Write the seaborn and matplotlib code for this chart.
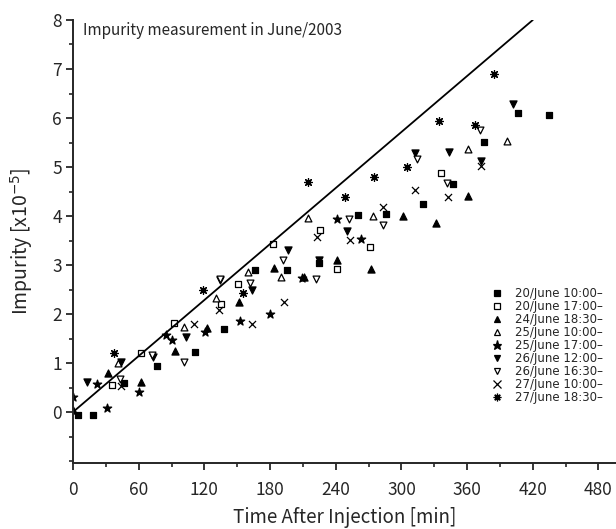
import numpy as np
import pandas as pd
import matplotlib
matplotlib.use("Agg")
import matplotlib.pyplot as plt
import seaborn as sns
from matplotlib.lines import Line2D
from matplotlib.ticker import MultipleLocator

# measured series (time after injection [min], impurity [x1e-5])
t_0620_1000 = [4.9, 18, 46.6, 76.4, 111.5, 138, 166, 195.8, 225, 260, 286, 319.8, 347.5, 375, 406.5, 435]
v_0620_1000 = [-0.06, -0.06, 0.59, 0.94, 1.22, 1.70, 2.90, 2.90, 3.05, 4.02, 4.05, 4.24, 4.66, 5.51, 6.10, 6.07]

t_0620_1700 = [35.3, 62, 92.6, 135.2, 151, 182.4, 225.6, 241.5, 271.3, 336.2]
v_0620_1700 = [0.55, 1.20, 1.82, 2.20, 2.61, 3.42, 3.71, 2.91, 3.36, 4.88]

t_0624_1830 = [0, 32.3, 62, 93.5, 122, 152, 183.6, 211, 241.5, 272, 301.8, 331.6, 361.2]
v_0624_1830 = [0.05, 0.80, 0.62, 1.25, 1.71, 2.24, 2.93, 2.76, 3.10, 2.91, 4.00, 3.85, 4.41]

t_0625_1000 = [41.4, 101.7, 130.6, 160.2, 189.7, 215, 274.4, 361, 396]
v_0625_1000 = [1.00, 1.73, 2.32, 2.86, 2.76, 3.95, 4.00, 5.36, 5.54]

t_0625_1700 = [0, 21.6, 31.4, 60.6, 85, 90, 120.6, 152.6, 180, 209, 241, 262.8]
v_0625_1700 = [0.30, 0.57, 0.09, 0.40, 1.57, 1.46, 1.64, 1.86, 2.00, 2.74, 3.93, 3.54]

t_0626_1200 = [13, 43.5, 72.8, 103.2, 134.3, 163.2, 196.7, 225, 250, 312.4, 343, 372.4, 401.7]
v_0626_1200 = [0.62, 1.03, 1.13, 1.54, 2.69, 2.49, 3.31, 3.10, 3.70, 5.29, 5.31, 5.13, 6.29]

t_0626_1630 = [43, 72, 101.7, 134, 161.7, 192, 222, 252.2, 283.5, 314, 341.4, 372]
v_0626_1630 = [0.67, 1.16, 1.03, 2.72, 2.63, 3.10, 2.71, 3.93, 3.82, 5.16, 4.68, 5.76]

t_0627_1000 = [43.5, 110.5, 133.4, 163.2, 193, 222.6, 253, 283, 312.4, 342.3, 372.7]
v_0627_1000 = [0.54, 1.80, 2.08, 1.80, 2.24, 3.58, 3.51, 4.19, 4.53, 4.38, 5.02]

t_0627_1830 = [37.8, 118.5, 155, 215, 248.8, 275, 304.8, 334.7, 367.5, 384.6]
v_0627_1830 = [1.20, 2.48, 2.42, 4.70, 4.39, 4.79, 5.01, 5.94, 5.86, 6.90]

labels = ["20/June 10:00–", "20/June 17:00–", "24/June 18:30–", "25/June 10:00–",
          "25/June 17:00–", "26/June 12:00–", "26/June 16:30–", "27/June 10:00–",
          "27/June 18:30–"]

# reference line
line_t = [0, 420]
line_v = [0, 8]

series = [
    (t_0620_1000, v_0620_1000), (t_0620_1700, v_0620_1700), (t_0624_1830, v_0624_1830),
    (t_0625_1000, v_0625_1000), (t_0625_1700, v_0625_1700), (t_0626_1200, v_0626_1200),
    (t_0626_1630, v_0626_1630), (t_0627_1000, v_0627_1000), (t_0627_1830, v_0627_1830),
]
frames = []
for lab, (t, v) in zip(labels, series):
    frames.append(pd.DataFrame({"time": t, "impurity": v, "run": lab}))
df = pd.concat(frames, ignore_index=True)

# marker, filled?, size
styles = [
    ("s", True, 22), ("s", False, 20), ("^", True, 26), ("^", False, 24),
    ("*", True, 40), ("v", True, 26), ("v", False, 24), ("x", True, 26),
    ((8, 2, 0), True, 32),
]

sns.set_style("ticks")
plt.rcParams["font.family"] = ["Noto Sans CJK JP", "DejaVu Sans"]

fig = plt.figure(figsize=(6.16, 5.29), dpi=100)
ax = fig.add_axes([0.1185, 0.1248, 0.8815, 0.8374])

sns.lineplot(x=line_t, y=line_v, ax=ax, color="black", linewidth=1.3)

handles = []
for lab, (m, filled, s) in zip(labels, styles):
    d = df[df["run"] == lab]
    if m == "x" or isinstance(m, tuple):
        sns.scatterplot(data=d, x="time", y="impurity", ax=ax, marker=m, s=s,
                        color="black", linewidth=0.9, legend=False)
        h = Line2D([], [], linestyle="none", marker=m, markersize=5.5,
                   color="black", markeredgewidth=0.9)
    else:
        fc = "black" if filled else "white"
        sns.scatterplot(data=d, x="time", y="impurity", ax=ax, marker=m, s=s,
                        facecolor=fc, edgecolor="black", linewidth=0.9, legend=False)
        h = Line2D([], [], linestyle="none", marker=m,
                   markersize=6.5 if m == "*" else 4.8,
                   markerfacecolor=fc, markeredgecolor="black", markeredgewidth=0.9)
    handles.append(h)

ax.set_xlim(0, 496)
ax.set_ylim(-1.04, 8.0)
ax.xaxis.set_major_locator(MultipleLocator(60))
ax.xaxis.set_minor_locator(MultipleLocator(30))
ax.yaxis.set_major_locator(MultipleLocator(1))
ax.yaxis.set_minor_locator(MultipleLocator(0.5))
ax.set_yticks(range(0, 9))
sns.despine(ax=ax)
for sp in ["left", "bottom"]:
    ax.spines[sp].set_linewidth(1.4)
ax.tick_params(which="major", direction="out", length=5, width=1.3, labelsize=12.5)
ax.tick_params(axis="x", which="major", pad=8)
ax.tick_params(axis="y", which="major", pad=3)
ax.tick_params(which="minor", direction="out", length=3, width=1.2)

ax.set_xlabel("Time After Injection [min]", fontsize=13.5, labelpad=6)
ax.set_ylabel("Impurity [x10$^{-5}$]", fontsize=14, labelpad=12)
ax.text(0.018, 0.977, "Impurity measurement in June/2003", transform=ax.transAxes,
        fontsize=11, va="center", ha="left")

ax.legend(handles, labels, loc="upper left", bbox_to_anchor=(0.787, 0.468),
          bbox_transform=fig.transFigure, frameon=False,
          prop={"family": "DejaVu Sans", "size": 8.5},
          labelspacing=0.0, handletextpad=1.1, handlelength=1.0, borderpad=0)

fig.savefig("out.png", dpi=100)
